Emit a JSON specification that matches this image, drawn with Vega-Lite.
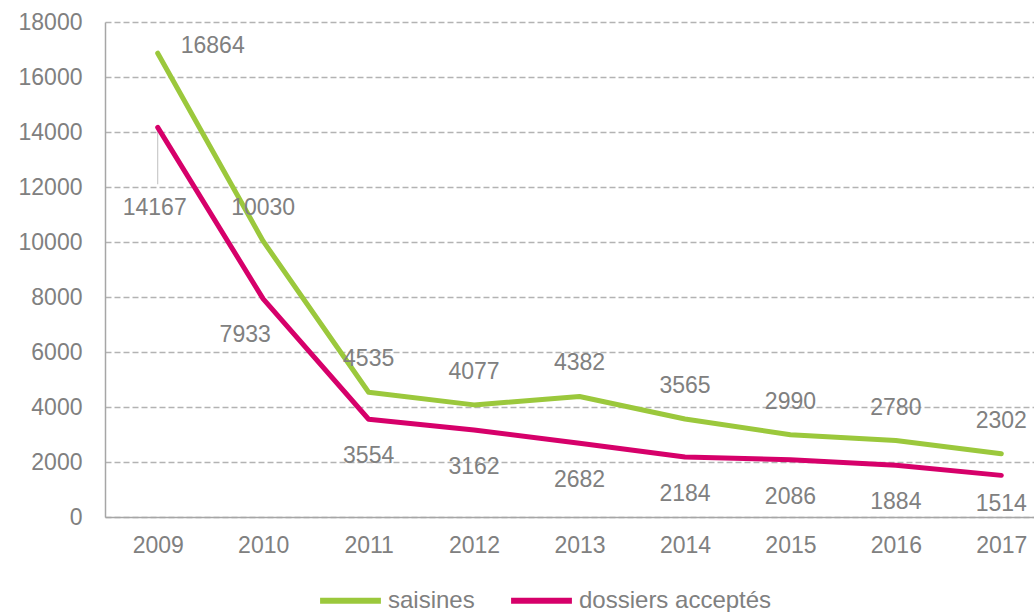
{
  "$schema": "https://vega.github.io/schema/vega-lite/v6.json",
  "autosize": "none",
  "width": 929,
  "height": 495,
  "padding": {"left": 105, "top": 22, "right": 0, "bottom": 95},
  "background": "white",
  "config": {
    "view": {"stroke": null},
    "font": "Liberation Sans",
    "text": {"font": "Liberation Sans"}
  },
  "data": {
    "values": [
      {"year": 2009, "series": "saisines", "value": 16864},
      {"year": 2010, "series": "saisines", "value": 10030},
      {"year": 2011, "series": "saisines", "value": 4535},
      {"year": 2012, "series": "saisines", "value": 4077},
      {"year": 2013, "series": "saisines", "value": 4382},
      {"year": 2014, "series": "saisines", "value": 3565},
      {"year": 2015, "series": "saisines", "value": 2990},
      {"year": 2016, "series": "saisines", "value": 2780},
      {"year": 2017, "series": "saisines", "value": 2302},
      {"year": 2009, "series": "dossiers acceptés", "value": 14167},
      {"year": 2010, "series": "dossiers acceptés", "value": 7933},
      {"year": 2011, "series": "dossiers acceptés", "value": 3554},
      {"year": 2012, "series": "dossiers acceptés", "value": 3162},
      {"year": 2013, "series": "dossiers acceptés", "value": 2682},
      {"year": 2014, "series": "dossiers acceptés", "value": 2184},
      {"year": 2015, "series": "dossiers acceptés", "value": 2086},
      {"year": 2016, "series": "dossiers acceptés", "value": 1884},
      {"year": 2017, "series": "dossiers acceptés", "value": 1514}
    ]
  },
  "encoding": {
    "x": {
      "field": "year", "type": "quantitative",
      "scale": {"domain": [2008.5, 2017.31], "nice": false, "zero": false},
      "axis": {
        "values": [2009, 2010, 2011, 2012, 2013, 2014, 2015, 2016, 2017],
        "format": "d", "title": null, "grid": false, "ticks": false,
        "domainColor": "#a6a6a6", "domainWidth": 1.5,
        "labelFontSize": 23, "labelColor": "#808080", "labelPadding": 17,
        "labelFont": "Liberation Sans"
      }
    },
    "y": {
      "field": "value", "type": "quantitative",
      "scale": {"domain": [0, 18000], "nice": false},
      "axis": {
        "values": [0, 2000, 4000, 6000, 8000, 10000, 12000, 14000, 16000, 18000],
        "format": "d", "title": null, "ticks": false,
        "domainColor": "#a6a6a6", "domainWidth": 1.5,
        "gridColor": "#b3b3b3", "gridDash": [6, 3], "gridWidth": 1.5,
        "labelFontSize": 23, "labelColor": "#808080", "labelPadding": 23,
        "labelFont": "Liberation Sans"
      }
    }
  },
  "layer": [
    {
      "transform": [{"filter": "datum.series == 'dossiers acceptés' && datum.year == 2009"}],
      "mark": {"type": "rule", "color": "#bfbfbf", "strokeWidth": 1},
      "encoding": {"y2": {"datum": 12100}}
    },
    {
      "mark": {"type": "line", "strokeWidth": 5, "interpolate": "linear", "strokeCap": "round", "strokeJoin": "round"},
      "encoding": {
        "color": {
          "field": "series", "type": "nominal",
          "scale": {"domain": ["saisines", "dossiers acceptés"], "range": ["#9bc83c", "#d6006a"]},
          "legend": {
            "title": null, "orient": "none", "direction": "horizontal",
            "legendX": 212, "legendY": 545,
            "symbolType": "stroke", "symbolSize": 3700, "symbolStrokeWidth": 6,
            "labelFontSize": 24, "labelColor": "#808080", "labelFont": "Liberation Sans",
            "labelOffset": 4, "columnPadding": 24, "labelLimit": 400
          }
        }
      }
    },
    {
      "transform": [{"filter": "datum.series == 'saisines' && datum.year != 2009"}],
      "mark": {"type": "text", "dy": -33, "fontSize": 23, "color": "#808080"},
      "encoding": {"text": {"field": "value", "type": "quantitative", "format": "d"}}
    },
    {
      "transform": [{"filter": "datum.series == 'saisines' && datum.year == 2009"}],
      "mark": {"type": "text", "dx": 55, "dy": -7, "fontSize": 23, "color": "#808080"},
      "encoding": {"text": {"field": "value", "type": "quantitative", "format": "d"}}
    },
    {
      "transform": [{"filter": "datum.series == 'dossiers acceptés' && datum.year >= 2011 && datum.year <= 2016"}],
      "mark": {"type": "text", "dy": 37, "fontSize": 23, "color": "#808080"},
      "encoding": {"text": {"field": "value", "type": "quantitative", "format": "d"}}
    },
    {
      "transform": [{"filter": "datum.series == 'dossiers acceptés' && datum.year == 2017"}],
      "mark": {"type": "text", "dy": 29, "fontSize": 23, "color": "#808080"},
      "encoding": {"text": {"field": "value", "type": "quantitative", "format": "d"}}
    },
    {
      "transform": [{"filter": "datum.series == 'dossiers acceptés' && datum.year == 2009"}],
      "mark": {"type": "text", "dx": -3, "dy": 81, "fontSize": 23, "color": "#808080"},
      "encoding": {"text": {"field": "value", "type": "quantitative", "format": "d"}}
    },
    {
      "transform": [{"filter": "datum.series == 'dossiers acceptés' && datum.year == 2010"}],
      "mark": {"type": "text", "dx": -18, "dy": 36, "fontSize": 23, "color": "#808080"},
      "encoding": {"text": {"field": "value", "type": "quantitative", "format": "d"}}
    }
  ]
}
